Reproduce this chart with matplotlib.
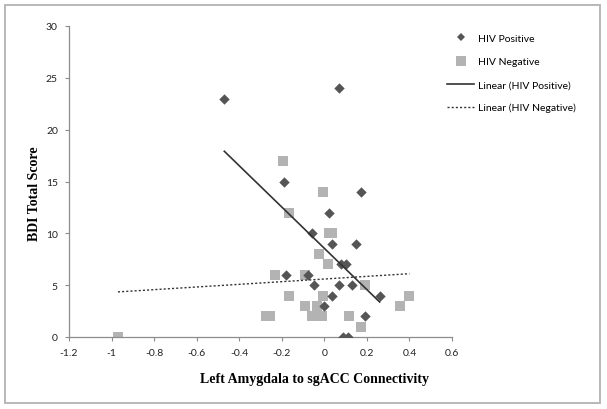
import matplotlib
matplotlib.use('Agg')
import matplotlib.pyplot as plt
import numpy as np
from matplotlib.patches import Rectangle
from matplotlib.lines import Line2D

# HIV Positive (diamonds)
pos_x = [-0.47, 0.07, -0.19, 0.17, 0.02, -0.06, 0.035, 0.15, 0.08, 0.10,
         -0.18, -0.075, -0.05, 0.07, 0.13, 0.035, 0.26, 0.0, 0.19, 0.09, 0.11]
pos_y = [23, 24, 15, 14, 12, 10, 9, 9, 7, 7,
         6, 6, 5, 5, 5, 4, 4, 3, 2, 0, 0]

# HIV Negative (squares)
neg_x = [-0.97, -0.195, -0.005, -0.165, 0.02, 0.035, -0.025, 0.017, -0.23, -0.09,
         0.19, -0.165, -0.005, 0.40, -0.09, -0.035, 0.355, -0.275, -0.255, -0.06,
         -0.012, 0.115, 0.17]
neg_y = [0, 17, 14, 12, 10, 10, 8, 7, 6, 6,
         5, 4, 4, 4, 3, 3, 3, 2, 2, 2,
         2, 2, 1]

x_ticks = [-1.2, -1, -0.8, -0.6, -0.4, -0.2, 0, 0.2, 0.4, 0.6]
y_ticks = [0, 5, 10, 15, 20, 25, 30]

sans = ['Lato', 'DejaVu Sans']
serif = 'Liberation Serif'
axis_col = '#8c8c8c'

fig = plt.figure(figsize=(6.07, 4.10), dpi=100)
ax = fig.add_axes([69 / 607, 1 - 338 / 410, (452 - 69) / 607, (338 - 27) / 410])

# 外枠
fig.patches.append(Rectangle((5 / 607, 6 / 410), 595 / 607, 398 / 410,
                             transform=fig.transFigure, fill=False,
                             edgecolor='#b8b8b8', linewidth=1.4))

ax.scatter(pos_x, pos_y, marker='D', s=28, color='#555555', zorder=3, linewidths=0)
ax.scatter(neg_x, neg_y, marker='s', s=46, color='#b3b3b3', zorder=2, linewidths=0)

# 回帰直線
px = np.array(pos_x)
nx = np.array(neg_x)
a1, b1 = np.polyfit(px, pos_y, 1)
a2, b2 = np.polyfit(nx, neg_y, 1)
lx1 = np.array([px.min(), px.max()])
lx2 = np.array([nx.min(), nx.max()])
ax.plot(lx1, a1 * lx1 + b1, color='#333333', lw=1.2, zorder=4)
ax.plot(lx2, a2 * lx2 + b2, color='#333333', lw=1.0, ls=(0, (1.5, 1.5)), zorder=4)

ax.set_xlim(-1.2, 0.6)
ax.set_ylim(0, 30)
ax.set_xticks(x_ticks)
ax.set_yticks(y_ticks)
ax.set_xticklabels([f'{round(v, 1):g}' for v in x_ticks], fontfamily=sans)
ax.set_yticklabels([str(v) for v in y_ticks], fontfamily=sans)
ax.tick_params(direction='out', length=3, width=0.8, color=axis_col,
               labelsize=7.5, labelcolor='#222222', pad=5)
for s in ['top', 'right']:
    ax.spines[s].set_visible(False)
for s in ['left', 'bottom']:
    ax.spines[s].set_color(axis_col)
    ax.spines[s].set_linewidth(0.9)

fig.text(315 / 607, 1 - 380 / 410, 'Left Amygdala to sgACC Connectivity',
         fontfamily=serif, fontweight='bold', fontsize=10, ha='center', va='center')
fig.text(34 / 607, 1 - 194 / 410, 'BDI Total Score', rotation=90,
         fontfamily=serif, fontweight='bold', fontsize=10, ha='center', va='center')

# 凡例 (一行ずつ配置して行間を揃える)
handles = [
    Line2D([], [], marker='D', ls='none', color='#555555', markersize=4.5, markeredgewidth=0),
    Line2D([], [], marker='s', ls='none', color='#b3b3b3', markersize=6.5, markeredgewidth=0),
    Line2D([], [], color='#333333', lw=1.2),
    Line2D([], [], color='#333333', lw=1.0, ls=(0, (1.5, 1.5))),
]
labels = ['HIV Positive', 'HIV Negative', 'Linear (HIV Positive)', 'Linear (HIV Negative)']
rows_y = [39, 62.5, 86, 108.5]
for h, lab, ry in zip(handles, labels, rows_y):
    fig.legend([h], [lab], loc='center left', bbox_to_anchor=(447 / 607, 1 - ry / 410),
               frameon=False, prop={'family': sans, 'size': 7.5}, handlelength=2.6,
               handletextpad=0.4, borderaxespad=0, borderpad=0)

plt.savefig('out.png', dpi=100)
plt.close()
